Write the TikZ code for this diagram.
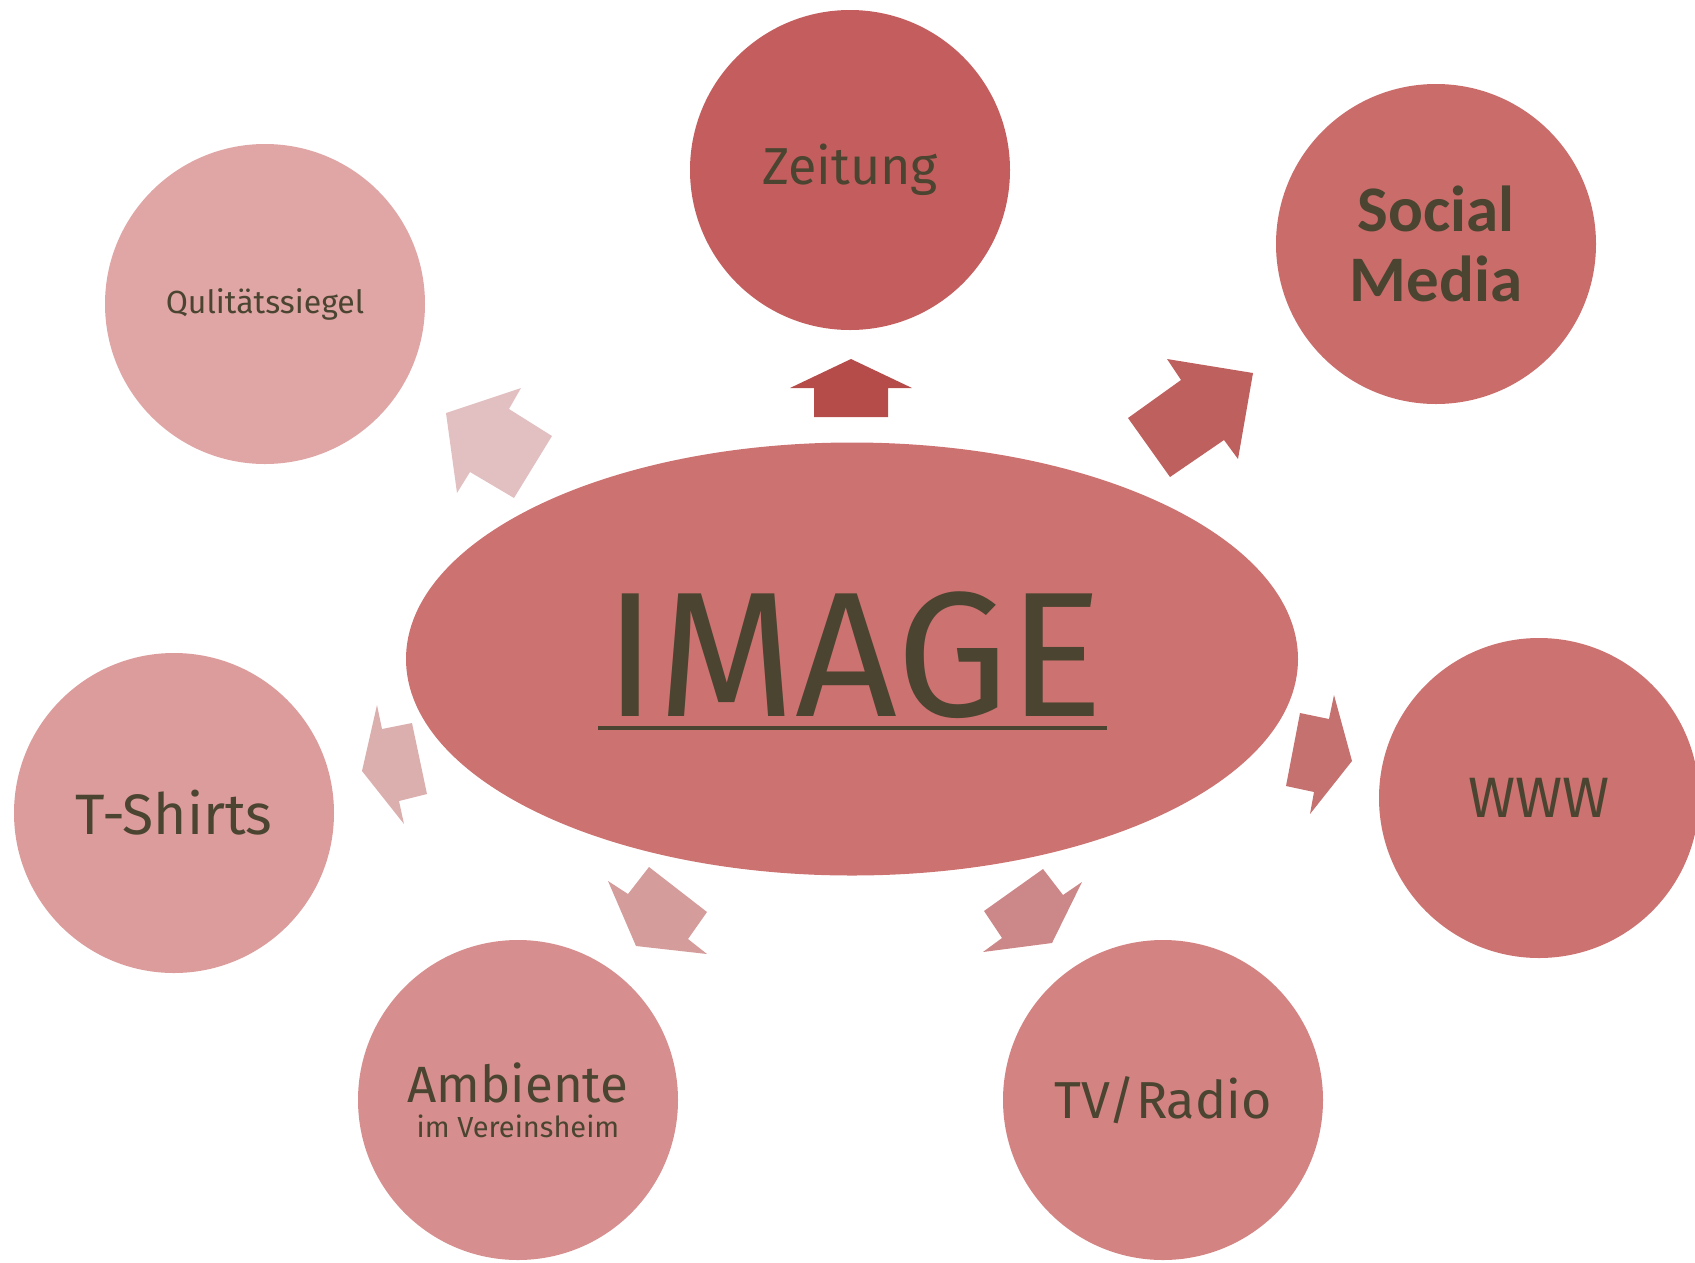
\documentclass[tikz,border=0pt]{standalone}
\usepackage{fontspec}
\setmainfont{Fira Sans}
\newfontfamily\socialfont{Carlito}
\usetikzlibrary{shapes.geometric}
\definecolor{txtcol}{HTML}{4A4430}
\definecolor{ellcol}{HTML}{CC7270}
\definecolor{zeitcol}{HTML}{C45E5E}
\definecolor{socialcol}{HTML}{C96C6A}
\definecolor{siegelcol}{HTML}{E0A6A6}
\definecolor{shirtcol}{HTML}{DC9C9C}
\definecolor{ambcol}{HTML}{D68F8E}
\definecolor{radiocol}{HTML}{D48383}
\definecolor{wwwcol}{HTML}{CC7270}
\definecolor{zeitarrow}{HTML}{B54C4A}
\definecolor{socialarrow}{HTML}{BE605E}
\definecolor{siegelarrow}{HTML}{E2C0C1}
\definecolor{shirtarrow}{HTML}{DCAFAF}
\definecolor{wwwarrow}{HTML}{C57170}
\definecolor{ambarrow}{HTML}{D49C9B}
\definecolor{radioarrow}{HTML}{CC8888}
\begin{document}
\begin{tikzpicture}[%
      x=1pt, y=-1pt,
      bubble/.style={circle, minimum size=320pt, inner sep=0pt, text=txtcol, align=center},
      ]
      \useasboundingbox (0,0) rectangle (1695,1262);

      \node [ellipse, fill=ellcol, minimum width=892pt, minimum height=433pt] (image) at (852,659) {};
      \node [inner sep=0pt, text=txtcol, font=\fontsize{178}{178}\selectfont] (imgtxt) at (854,655.6) {IMAGE};
      \draw [color=txtcol, line width=3.5pt] ([xshift=-6pt, yshift=-11pt]imgtxt.base west) -- ([xshift=3pt, yshift=-11pt]imgtxt.base east);

      \node [bubble, fill=zeitcol, font=\fontsize{52}{60}\selectfont] (zeitung) at (850,170) {Zeitung};
      \node [bubble, fill=socialcol, font=\socialfont\bfseries\fontsize{65}{70}\selectfont] (social) at (1436,244) {Social\\Media};
      \node [bubble, fill=siegelcol, font=\fontsize{32}{40}\selectfont] (siegel) at (265,304) {Qulitätssiegel};
      \node [bubble, fill=shirtcol, font=\fontsize{57}{66}\selectfont] (shirts) at (174,813) {T-Shirts};
      \node [bubble, fill=ambcol, font=\fontsize{51}{35}\selectfont] (ambiente) at (518,1100) {Ambiente\\{\fontsize{29}{35}\selectfont im Vereinsheim}};
      \node [bubble, fill=radiocol, font=\fontsize{52}{66}\selectfont] (radio) at (1163,1100) {TV/Radio};
      \node [bubble, fill=wwwcol, font=\fontsize{57}{66}\selectfont] (www) at (1539,798) {WWW};

      \fill [color=zeitarrow] (851,359) -- (912,388) -- (888,388) -- (888,417) -- (814,417) -- (814,388) -- (790,388) -- cycle;
      \fill [color=socialarrow] (1253,373) -- (1167,359) -- (1181,380) -- (1128,418) -- (1170,477) -- (1224,440) -- (1238,459) -- cycle;
      \fill [color=siegelarrow] (446,413) -- (521,388) -- (509,409) -- (552,436) -- (514,498) -- (470,472) -- (457,493) -- cycle;
      \fill [color=shirtarrow] (362,771) -- (377,705) -- (382,729) -- (412,723) -- (427,794) -- (399,801) -- (404,824) -- cycle;
      \fill [color=wwwarrow] (1352,761) -- (1334,695) -- (1329,719) -- (1300,713) -- (1286,786) -- (1314,792) -- (1310,814) -- cycle;
      \fill [color=ambarrow] (636,946) -- (608,881) -- (628,894) -- (649,867) -- (707,912) -- (688,939) -- (707,954) -- cycle;
      \fill [color=radioarrow] (1052,943) -- (1082,882) -- (1063,895) -- (1043,869) -- (984,911) -- (1002,938) -- (983,952) -- cycle;
\end{tikzpicture}
\end{document}
